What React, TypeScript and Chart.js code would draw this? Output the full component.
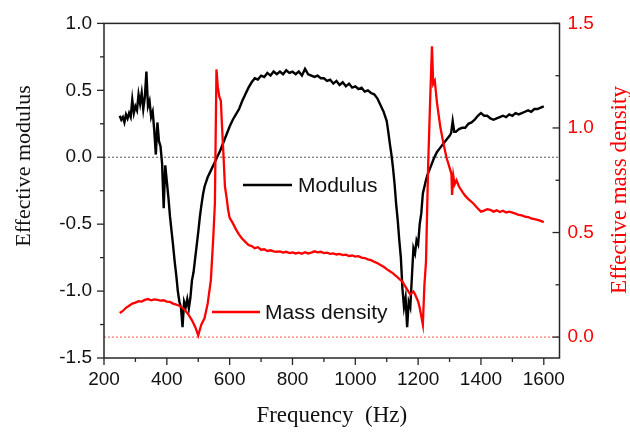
import React, { useEffect, useRef } from "react";
import { Chart, registerables } from "chart.js";

Chart.register(...registerables);

// ---- Data ----
const modFreq = [
  250, 255, 260, 265, 270, 275, 280, 285, 290, 295, 300, 305, 310, 315, 320, 325, 330, 335, 340, 345,
  350, 355, 360, 365, 370, 375, 380, 385, 390, 395, 400, 405, 410, 415, 420, 425, 430, 435, 440, 445,
  450, 455, 460, 465, 470, 475, 480, 485, 490, 495, 500, 505, 510, 515, 520, 530, 540, 550, 560, 570,
  580, 590, 600, 610, 620, 630, 640, 650, 660, 670, 680, 690, 700, 710, 720, 730, 740, 750, 760, 770,
  780, 790, 800, 810, 820, 830, 840, 850, 860, 870, 880, 890, 900, 910, 920, 930, 940, 950, 960, 970,
  980, 990, 1000, 1010, 1020, 1030, 1040, 1050, 1060, 1070, 1080, 1090, 1100, 1105, 1110, 1115, 1120,
  1125, 1130, 1135, 1140, 1145, 1150, 1155, 1160, 1165, 1170, 1175, 1180, 1185, 1190, 1195, 1200, 1205,
  1210, 1215, 1220, 1225, 1230, 1240, 1250, 1260, 1270, 1280, 1290, 1300, 1305, 1310, 1315, 1320, 1330,
  1340, 1350, 1360, 1370, 1380, 1390, 1400, 1405, 1410, 1420, 1430, 1440, 1450, 1460, 1470, 1480, 1490,
  1500, 1510, 1520, 1530, 1540, 1550, 1560, 1570, 1580, 1590, 1600,
];
const modulus = [
  0.31, 0.28, 0.3, 0.26, 0.32, 0.29, 0.33, 0.3, 0.43, 0.33, 0.38, 0.35, 0.47, 0.4, 0.48, 0.36, 0.45, 0.64, 0.38, 0.42,
  0.3, 0.34, 0.2, 0.02, 0.26, 0.12, 0.08, -0.05, -0.38, -0.06, -0.18, -0.3, -0.44, -0.55, -0.66, -0.78, -0.88, -1.0, -1.08, -1.12,
  -1.27, -1.08, -1.12, -1.06, -1.13, -1.05, -0.92, -0.86, -0.76, -0.66, -0.56, -0.45, -0.36, -0.28, -0.22, -0.15, -0.1, -0.05, 0.0, 0.05,
  0.11, 0.17, 0.23, 0.28, 0.32, 0.36, 0.42, 0.47, 0.52, 0.56, 0.59, 0.58, 0.61, 0.6, 0.63, 0.61, 0.64, 0.62, 0.64, 0.62,
  0.65, 0.63, 0.64, 0.62, 0.64, 0.61, 0.66, 0.62, 0.61, 0.6, 0.61, 0.59, 0.59, 0.57, 0.58, 0.55, 0.57, 0.54, 0.56, 0.53,
  0.55, 0.52, 0.53, 0.51, 0.52, 0.49, 0.5, 0.48, 0.47, 0.44, 0.39, 0.34, 0.27, 0.19, 0.1, 0.02, -0.08,
  -0.2, -0.35, -0.47, -0.62, -0.75, -0.98, -1.12, -1.05, -1.27, -1.08, -1.12, -0.9, -0.68, -0.72, -0.62, -0.65, -0.5,
  -0.42, -0.27, -0.22, -0.17, -0.13, -0.07, -0.01, 0.04, 0.07, 0.1, 0.13, 0.16, 0.18, 0.27, 0.19, 0.19, 0.21,
  0.22, 0.22, 0.25, 0.26, 0.28, 0.31, 0.33, 0.32, 0.31, 0.31, 0.29, 0.28, 0.29, 0.3, 0.31, 0.3, 0.32,
  0.31, 0.33, 0.32, 0.33, 0.34, 0.35, 0.34, 0.36, 0.36, 0.37, 0.38,
];

const denFreq = [
  250, 260, 270, 280, 290, 300, 310, 320, 330, 340, 350, 360, 370, 380, 390, 400, 410, 420, 430, 440,
  450, 460, 470, 480, 490, 495, 500, 505, 510, 520, 530, 540, 548, 553, 558, 562, 567, 572, 576, 580,
  585, 590, 595, 600, 610, 620, 630, 640, 650, 660, 670, 680, 690, 700, 710, 720, 730, 740, 750, 760,
  770, 780, 790, 800, 810, 820, 830, 840, 850, 860, 870, 880, 890, 900, 910, 920, 930, 940, 950, 960,
  970, 980, 990, 1000, 1010, 1020, 1030, 1040, 1050, 1060, 1070, 1080, 1090, 1100, 1110, 1120, 1130, 1140,
  1150, 1160, 1170, 1175, 1180, 1185, 1190, 1200, 1205, 1210, 1215, 1220, 1225, 1232, 1238, 1244, 1248, 1253,
  1260, 1270, 1280, 1290, 1300, 1306, 1308, 1312, 1316, 1322, 1330, 1343, 1350, 1360, 1375, 1390, 1400, 1410,
  1420, 1430, 1440, 1450, 1460, 1470, 1480, 1490, 1500, 1510, 1520, 1530, 1540, 1550, 1560, 1570, 1580, 1590, 1600,
];
const density = [
  0.115, 0.125, 0.14, 0.15, 0.16, 0.165, 0.172, 0.17, 0.178, 0.182, 0.176, 0.18, 0.178, 0.174, 0.176, 0.17, 0.168, 0.16, 0.155, 0.15,
  0.14, 0.125, 0.105, 0.08, 0.05, 0.03, 0.008, 0.035, 0.06, 0.09, 0.16, 0.27, 0.48, 0.64, 1.28, 1.2, 1.15, 1.13, 1.0, 0.88,
  0.72, 0.67, 0.61, 0.57, 0.545, 0.515, 0.49, 0.47, 0.455, 0.44, 0.435, 0.425, 0.43, 0.418, 0.42, 0.412, 0.415, 0.41, 0.408, 0.41,
  0.404, 0.408, 0.402, 0.405, 0.4, 0.404, 0.398, 0.406, 0.4, 0.404, 0.41, 0.405, 0.408, 0.402, 0.404, 0.398, 0.4, 0.395, 0.398, 0.392,
  0.394, 0.388, 0.39, 0.385, 0.387, 0.38, 0.378, 0.372, 0.368, 0.36, 0.354, 0.345, 0.336, 0.325, 0.315, 0.305, 0.292, 0.278,
  0.265, 0.24, 0.215, 0.205, 0.212, 0.218, 0.205, 0.17, 0.14, 0.1, 0.06, 0.25, 0.36, 0.83, 1.12, 1.39, 1.21, 1.225,
  1.12, 1.01, 0.93, 0.86, 0.81, 0.78, 0.68, 0.77, 0.73, 0.75, 0.72, 0.69, 0.675, 0.66, 0.64, 0.615, 0.6, 0.605,
  0.612, 0.608, 0.6, 0.606, 0.598, 0.604, 0.596, 0.6, 0.595, 0.59, 0.584, 0.582, 0.576, 0.574, 0.568, 0.564, 0.56, 0.556, 0.55,
];

const xMajor = [200, 400, 600, 800, 1000, 1200, 1400, 1600];
const xMinor = [300, 500, 700, 900, 1100, 1300, 1500];
const yMajor = [-1.5, -1.0, -0.5, 0.0, 0.5, 1.0];
const yMinor = [-1.25, -0.75, -0.25, 0.25, 0.75];
const y2Major = [0.0, 0.5, 1.0, 1.5];
const y2Minor = [0.25, 0.75, 1.25];

const xRange = [200, 1650];
const yRange = [-1.5, 1.0];
const y2Range = [-0.1, 1.5];

const RED = "#ff0000";
const AXIS = "#262626";

const decor = {
  id: "decor",
  afterDraw(chart: any) {
    const { ctx, chartArea: a, scales } = chart;
    const sx = scales.x, sy = scales.y, sy2 = scales.y2;
    ctx.save();
    ctx.strokeStyle = AXIS;
    ctx.lineWidth = 1.5;
    ctx.strokeRect(a.left, a.top, a.right - a.left, a.bottom - a.top);
    ctx.lineWidth = 1.3;
    const line = (x1: number, y1: number, x2: number, y2: number) => {
      ctx.beginPath();
      ctx.moveTo(x1, y1);
      ctx.lineTo(x2, y2);
      ctx.stroke();
    };
    xMajor.forEach((v) => { const p = sx.getPixelForValue(v); line(p, a.bottom, p, a.bottom + 7); });
    xMinor.forEach((v) => { const p = sx.getPixelForValue(v); line(p, a.bottom, p, a.bottom + 4); });
    yMajor.forEach((v) => { const p = sy.getPixelForValue(v); line(a.left - 7, p, a.left, p); });
    yMinor.forEach((v) => { const p = sy.getPixelForValue(v); line(a.left - 4, p, a.left, p); });
    y2Major.forEach((v) => { const p = sy2.getPixelForValue(v); line(a.right - 7, p, a.right, p); });
    y2Minor.forEach((v) => { const p = sy2.getPixelForValue(v); line(a.right - 4, p, a.right, p); });

    // axis titles
    ctx.textAlign = "center";
    ctx.textBaseline = "middle";
    ctx.fillStyle = "#111";
    ctx.font = '23px "Liberation Serif", serif';
    ctx.fillText("Frequency  (Hz)", (a.left + a.right) / 2, 416);
    ctx.font = '22px "Liberation Serif", serif';
    ctx.save();
    ctx.translate(24, 166);
    ctx.rotate(-Math.PI / 2);
    ctx.fillText("Effective modulus", 0, 0);
    ctx.restore();
    ctx.save();
    ctx.font = '23px "Liberation Serif", serif';
    ctx.translate(620, 190);
    ctx.rotate(-Math.PI / 2);
    ctx.fillStyle = RED;
    ctx.fillText("Effective mass density", 0, 0);
    ctx.restore();

    // legend
    ctx.lineWidth = 2.5;
    ctx.strokeStyle = "#000";
    line(243, 185, 292, 185);
    ctx.strokeStyle = RED;
    line(212, 312, 260, 312);
    ctx.font = '21px "Liberation Sans", Arial, sans-serif';
    ctx.textAlign = "left";
    ctx.fillStyle = "#111";
    ctx.fillText("Modulus", 298, 186);
    ctx.fillText("Mass density", 265, 313);
    ctx.restore();
  },
};

export default function App() {
  const ref = useRef<HTMLCanvasElement | null>(null);
  useEffect(() => {
    if (!ref.current) return;
    const tickFont = { family: '"Liberation Sans", Arial, sans-serif', size: 19 };
    const chart = new Chart(ref.current, {
      type: "line",
      data: {
        datasets: [
          {
            label: "Mass density",
            data: denFreq.map((f, i) => ({ x: f, y: density[i] })),
            yAxisID: "y2",
            borderColor: RED,
            borderWidth: 2.3,
            pointRadius: 0,
            tension: 0,
            order: 0,
          },
          {
            label: "Modulus",
            data: modFreq.map((f, i) => ({ x: f, y: modulus[i] })),
            yAxisID: "y",
            borderColor: "#000",
            borderWidth: 2.4,
            pointRadius: 0,
            tension: 0,
            order: 1,
          },
          {
            label: "zero modulus",
            data: [{ x: xRange[0], y: 0 }, { x: xRange[1], y: 0 }],
            yAxisID: "y",
            borderColor: "#555",
            borderWidth: 1,
            borderDash: [2, 2],
            pointRadius: 0,
            order: 5,
          },
          {
            label: "zero density",
            data: [{ x: xRange[0], y: 0 }, { x: xRange[1], y: 0 }],
            yAxisID: "y2",
            borderColor: "#ff5555",
            borderWidth: 1,
            borderDash: [2, 2],
            pointRadius: 0,
            order: 5,
          },
        ],
      },
      options: {
        animation: false,
        responsive: false,
        layout: { padding: { top: 22, left: 0, right: 0, bottom: 0 } },
        plugins: { legend: { display: false }, tooltip: { enabled: false } },
        scales: {
          x: {
            type: "linear",
            min: xRange[0],
            max: xRange[1],
            grid: { display: false, drawTicks: false },
            border: { display: false },
            ticks: { font: tickFont, color: "#111", padding: 10, maxRotation: 0, autoSkip: false, callback: (v: any) => String(v) },
            afterBuildTicks: (s: any) => { s.ticks = xMajor.map((v) => ({ value: v })); },
            afterFit: (s: any) => { s.height = 74; },
          },
          y: {
            type: "linear",
            position: "left",
            min: yRange[0],
            max: yRange[1],
            grid: { display: false, drawTicks: false },
            border: { display: false },
            ticks: { font: tickFont, color: "#111", padding: 12, autoSkip: false, callback: (v: any) => Number(v).toFixed(1) },
            afterBuildTicks: (s: any) => { s.ticks = yMajor.map((v) => ({ value: v })); },
            afterFit: (s: any) => { s.width = 104; },
          },
          y2: {
            type: "linear",
            position: "right",
            min: y2Range[0],
            max: y2Range[1],
            grid: { display: false, drawTicks: false },
            border: { display: false },
            ticks: { font: tickFont, color: RED, padding: 8, autoSkip: false, callback: (v: any) => Number(v).toFixed(1) },
            afterBuildTicks: (s: any) => { s.ticks = y2Major.map((v) => ({ value: v })); },
            afterFit: (s: any) => { s.width = 70.5; },
          },
        },
      },
      plugins: [decor],
    } as any);
    return () => chart.destroy();
  }, []);
  return (
    <div style={{ position: "absolute", left: 0, top: 0, width: 630, height: 432, background: "#fff" }}>
      <canvas ref={ref} width={630} height={432} style={{ display: "block" }} />
    </div>
  );
}
